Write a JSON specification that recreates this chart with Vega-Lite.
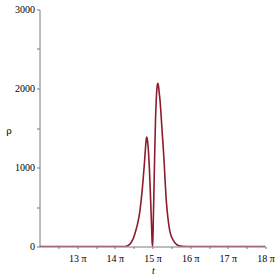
{
  "$schema": "https://vega.github.io/schema/vega-lite/v6.json",
  "width": 226,
  "height": 237,
  "autosize": {"type": "none"},
  "padding": {"left": 39.5, "top": 9.5, "right": 12.5, "bottom": 31.5},
  "background": "white",
  "config": {
    "view": {"stroke": null},
    "font": "'Liberation Serif', 'Times New Roman', serif",
    "axis": {"grid": false, "domainColor": "#7a7a7a", "tickColor": "#7a7a7a", "labelColor": "black", "labelFont": "'Liberation Serif', 'Times New Roman', serif", "labelFontSize": 10, "titleFont": "'Liberation Serif', 'Times New Roman', serif", "titleFontWeight": "normal", "titleColor": "black"}
  },
  "data": {"values": [
    {"t": 12.0, "rho": 0},
    {"t": 13.0, "rho": 0},
    {"t": 14.0, "rho": 0},
    {"t": 14.2, "rho": 0.5},
    {"t": 14.3, "rho": 3},
    {"t": 14.35, "rho": 12},
    {"t": 14.4, "rho": 30},
    {"t": 14.45, "rho": 65},
    {"t": 14.5, "rho": 115},
    {"t": 14.55, "rho": 190},
    {"t": 14.6, "rho": 280},
    {"t": 14.65, "rho": 400},
    {"t": 14.7, "rho": 590},
    {"t": 14.75, "rho": 840},
    {"t": 14.78, "rho": 1020},
    {"t": 14.81, "rho": 1220},
    {"t": 14.83, "rho": 1340},
    {"t": 14.845, "rho": 1385},
    {"t": 14.86, "rho": 1365},
    {"t": 14.88, "rho": 1285},
    {"t": 14.9, "rho": 1150},
    {"t": 14.92, "rho": 960},
    {"t": 14.94, "rho": 720},
    {"t": 14.96, "rho": 460},
    {"t": 14.98, "rho": 190},
    {"t": 14.99, "rho": 60},
    {"t": 15.0, "rho": 0},
    {"t": 15.01, "rho": 90},
    {"t": 15.02, "rho": 300},
    {"t": 15.04, "rho": 750},
    {"t": 15.06, "rho": 1200},
    {"t": 15.08, "rho": 1600},
    {"t": 15.1, "rho": 1860},
    {"t": 15.12, "rho": 2010},
    {"t": 15.14, "rho": 2065},
    {"t": 15.16, "rho": 2030},
    {"t": 15.18, "rho": 1940},
    {"t": 15.2, "rho": 1850},
    {"t": 15.22, "rho": 1720},
    {"t": 15.25, "rho": 1500},
    {"t": 15.28, "rho": 1290},
    {"t": 15.31, "rho": 1060},
    {"t": 15.33, "rho": 870},
    {"t": 15.36, "rho": 620},
    {"t": 15.39, "rho": 450},
    {"t": 15.42, "rho": 320},
    {"t": 15.46, "rho": 195},
    {"t": 15.5, "rho": 130},
    {"t": 15.55, "rho": 80},
    {"t": 15.6, "rho": 45},
    {"t": 15.65, "rho": 22},
    {"t": 15.7, "rho": 10},
    {"t": 15.8, "rho": 2},
    {"t": 15.9, "rho": 0},
    {"t": 17.0, "rho": 0},
    {"t": 18.0, "rho": 0}
  ]},
  "mark": {"type": "line", "color": "#8c1c2c", "strokeWidth": 1.6, "interpolate": "monotone", "clip": true},
  "encoding": {
    "x": {
      "field": "t", "type": "quantitative",
      "scale": {"domain": [12, 18], "nice": false, "zero": false},
      "axis": {
        "values": [12.5, 13, 13.5, 14, 14.5, 15, 15.5, 16, 16.5, 17, 17.5, 18],
        "labelExpr": "datum.value % 1 == 0 ? datum.value + ' π' : ''",
        "tickSize": 2, "labelPadding": 5, "labelFlush": false,
        "title": "t", "titleFontStyle": "italic", "titleFontSize": 10,
        "titleX": 113.5, "titleY": 24, "titleBaseline": "middle", "titleAnchor": null
      }
    },
    "y": {
      "field": "rho", "type": "quantitative",
      "scale": {"domain": [0, 3000], "nice": false},
      "axis": {
        "values": [0, 500, 1000, 1500, 2000, 2500, 3000],
        "labelExpr": "datum.value % 1000 == 0 ? datum.value : ''",
        "tickSize": 3, "labelPadding": 2,
        "title": "ρ", "titleAngle": 0, "titleFontSize": 11,
        "titleX": -31, "titleY": 121, "titleAlign": "center", "titleBaseline": "middle"
      }
    }
  }
}
